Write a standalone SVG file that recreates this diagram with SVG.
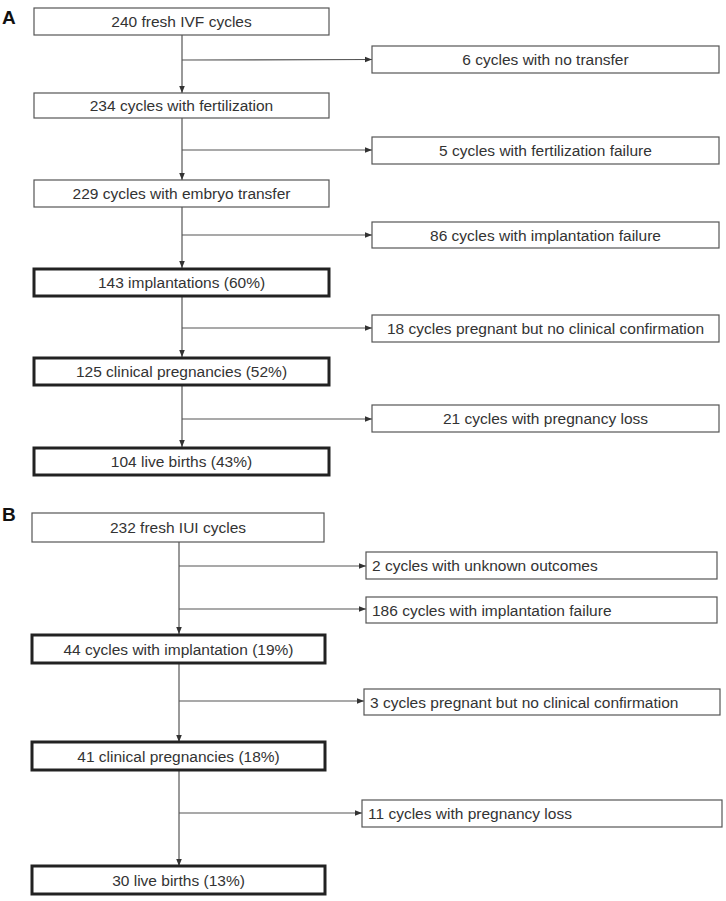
<svg xmlns="http://www.w3.org/2000/svg" width="726" height="901" viewBox="0 0 726 901">
<style>
.box{fill:#fff;stroke:#555;stroke-width:1.2}
.bold{fill:#fff;stroke:#222;stroke-width:3}
.t{font-family:"Liberation Sans",Arial,sans-serif;font-size:15.5px;fill:#333}
.c{text-anchor:middle}
.lab{font-family:"Liberation Sans",Arial,sans-serif;font-size:19px;font-weight:bold;fill:#111}
.ln{stroke:#555;stroke-width:1.2;fill:none}
</style>
<defs>
<marker id="ah" viewBox="0 0 10 10" refX="10" refY="5" markerWidth="7" markerHeight="7" markerUnits="userSpaceOnUse" orient="auto">
<path d="M0,1 L10,5 L0,9 z" fill="#333"/>
</marker>
</defs>
<text class="lab" x="2" y="24">A</text>
<text class="lab" x="2" y="521">B</text>
<g id="connectors">
<line class="ln" x1="182" y1="35" x2="182" y2="93" marker-end="url(#ah)"/>
<line class="ln" x1="182" y1="60" x2="372" y2="59.5" marker-end="url(#ah)"/>
<line class="ln" x1="182" y1="118" x2="182" y2="180" marker-end="url(#ah)"/>
<line class="ln" x1="182" y1="150" x2="372" y2="150" marker-end="url(#ah)"/>
<line class="ln" x1="182" y1="207" x2="182" y2="268" marker-end="url(#ah)"/>
<line class="ln" x1="182" y1="235" x2="372" y2="235" marker-end="url(#ah)"/>
<line class="ln" x1="182" y1="296" x2="182" y2="357" marker-end="url(#ah)"/>
<line class="ln" x1="182" y1="328" x2="372" y2="328" marker-end="url(#ah)"/>
<line class="ln" x1="182" y1="386" x2="182" y2="447" marker-end="url(#ah)"/>
<line class="ln" x1="182" y1="419" x2="372" y2="419" marker-end="url(#ah)"/>
<line class="ln" x1="179" y1="542" x2="179" y2="634" marker-end="url(#ah)"/>
<line class="ln" x1="179" y1="566" x2="366" y2="566" marker-end="url(#ah)"/>
<line class="ln" x1="179" y1="609" x2="366" y2="609" marker-end="url(#ah)"/>
<line class="ln" x1="179" y1="663" x2="179" y2="742" marker-end="url(#ah)"/>
<line class="ln" x1="179" y1="701" x2="364" y2="701" marker-end="url(#ah)"/>
<line class="ln" x1="179" y1="770" x2="179" y2="866" marker-end="url(#ah)"/>
<line class="ln" x1="179" y1="813" x2="362" y2="813" marker-end="url(#ah)"/>
</g>
<g id="a1"><rect class="box" x="34" y="8" width="295" height="27"/><text class="t c" x="181.5" y="27">240 fresh IVF cycles</text></g>
<g id="a1x"><rect class="box" x="372" y="46" width="347" height="27"/><text class="t c" x="545.5" y="65">6 cycles with no transfer</text></g>
<g id="a2"><rect class="box" x="34" y="93" width="295" height="25"/><text class="t c" x="181.5" y="111">234 cycles with fertilization</text></g>
<g id="a2x"><rect class="box" x="372" y="137" width="347" height="27"/><text class="t c" x="545.5" y="156">5 cycles with fertilization failure</text></g>
<g id="a3"><rect class="box" x="34" y="180" width="295" height="27"/><text class="t c" x="181.5" y="199">229 cycles with embryo transfer</text></g>
<g id="a3x"><rect class="box" x="372" y="222" width="347" height="26"/><text class="t c" x="545.5" y="240.5">86 cycles with implantation failure</text></g>
<g id="a4"><rect class="bold" x="34" y="269" width="295" height="27"/><text class="t c" x="181.5" y="288">143 implantations (60%)</text></g>
<g id="a4x"><rect class="box" x="372" y="315" width="347" height="27"/><text class="t c" x="545.5" y="334">18 cycles pregnant but no clinical confirmation</text></g>
<g id="a5"><rect class="bold" x="34" y="358" width="295" height="27"/><text class="t c" x="181.5" y="377">125 clinical pregnancies (52%)</text></g>
<g id="a5x"><rect class="box" x="372" y="405" width="347" height="27"/><text class="t c" x="545.5" y="424">21 cycles with pregnancy loss</text></g>
<g id="a6"><rect class="bold" x="34" y="448" width="295" height="27"/><text class="t c" x="181.5" y="467">104 live births (43%)</text></g>
<g id="b1"><rect class="box" x="32" y="513" width="292" height="29"/><text class="t c" x="178" y="533">232 fresh IUI cycles</text></g>
<g id="b1x"><rect class="box" x="366" y="552" width="351" height="27"/><text class="t" x="372" y="571">2 cycles with unknown outcomes</text></g>
<g id="b2x"><rect class="box" x="366" y="597" width="351" height="26"/><text class="t" x="372" y="615.5">186 cycles with implantation failure</text></g>
<g id="b2"><rect class="bold" x="32" y="635" width="293" height="28"/><text class="t c" x="178.5" y="654.5">44 cycles with implantation (19%)</text></g>
<g id="b3x"><rect class="box" x="364" y="689" width="356" height="26"/><text class="t" x="370" y="707.5">3 cycles pregnant but no clinical confirmation</text></g>
<g id="b3"><rect class="bold" x="32" y="742" width="293" height="28"/><text class="t c" x="178.5" y="761.5">41 clinical pregnancies (18%)</text></g>
<g id="b4x"><rect class="box" x="362" y="800" width="360" height="27"/><text class="t" x="368" y="819">11 cycles with pregnancy loss</text></g>
<g id="b4"><rect class="bold" x="32" y="866" width="293" height="28"/><text class="t c" x="178.5" y="885.5">30 live births (13%)</text></g>
</svg>
